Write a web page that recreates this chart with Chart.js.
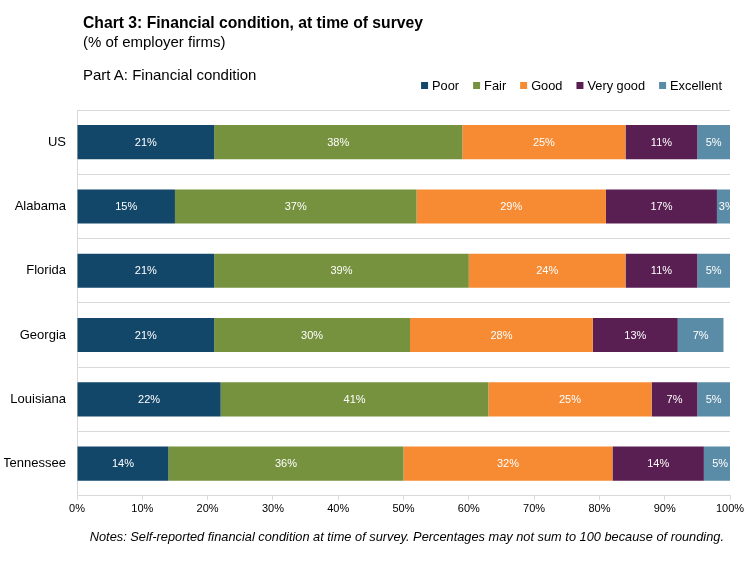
<!DOCTYPE html>
<html>
<head>
<meta charset="utf-8">
<script src="https://cdn.jsdelivr.net/npm/chart.js@4"></script>
<style>
  html, body { margin: 0; padding: 0; background: #fff; }
  #wrap { position: relative; width: 750px; height: 566px; font-family: "Liberation Sans", Arial, sans-serif; color: #000; }
  #c { position: absolute; left: 0; top: 0; }
  .t { position: absolute; white-space: nowrap; line-height: 1; }
</style>
</head>
<body>
<div id="wrap">
  <canvas id="c" width="750" height="566"></canvas>
  <div class="t" id="title" style="left:83px; top:15px; font-size:15.7px; font-weight:bold;">Chart 3: Financial condition, at time of survey</div>
  <div class="t" id="sub" style="left:83px; top:34px; font-size:15px;">(% of employer firms)</div>
  <div class="t" id="part" style="left:83px; top:67px; font-size:15px;">Part A: Financial condition</div>
  <div class="t" id="notes" style="right:26px; top:531px; font-size:12.8px; font-style:italic;">Notes: Self-reported financial condition at time of survey. Percentages may not sum to 100 because of rounding.</div>
</div>
<script>
const categories = ["US", "Alabama", "Florida", "Georgia", "Louisiana", "Tennessee"];
const seriesNames = ["Poor", "Fair", "Good", "Very good", "Excellent"];
const poor      = [21, 15, 21, 21, 22, 14];
const fair      = [38, 37, 39, 30, 41, 36];
const good      = [25, 29, 24, 28, 25, 32];
const veryGood  = [11, 17, 11, 13, 7, 14];
const excellent = [5, 3, 5, 7, 5, 5];
const xTicks = [0, 10, 20, 30, 40, 50, 60, 70, 80, 90, 100];
const colors = ["#13476A", "#77923F", "#F68B33", "#5A1F52", "#5B8CA7"];

const seriesValues = [poor, fair, good, veryGood, excellent];

const barLabels = {
  id: 'barLabels',
  afterDatasetsDraw(chart) {
    const ctx = chart.ctx;
    const a = chart.chartArea;
    ctx.save();
    ctx.beginPath();
    ctx.rect(a.left, a.top, a.right - a.left, a.bottom - a.top);
    ctx.clip();
    ctx.fillStyle = '#ffffff';
    ctx.font = '11px "Liberation Sans", Arial, sans-serif';
    ctx.textAlign = 'center';
    ctx.textBaseline = 'middle';
    chart.data.datasets.forEach((ds, di) => {
      const meta = chart.getDatasetMeta(di);
      meta.data.forEach((bar, i) => {
        const v = ds.data[i];
        const cx = (bar.x + bar.base) / 2;
        ctx.fillText(v + '%', cx, bar.y + 0.5);
      });
    });
    ctx.restore();
  }
};

const customLegend = {
  id: 'customLegend',
  afterDraw(chart) {
    const ctx = chart.ctx;
    ctx.save();
    ctx.font = '12.8px "Liberation Sans", Arial, sans-serif';
    ctx.textBaseline = 'alphabetic';
    ctx.textAlign = 'left';
    const box = 7, gapBoxText = 4, gapItems = 14;
    const items = chart.data.datasets.map(d => ({ label: d.label, color: d.backgroundColor, w: ctx.measureText(d.label).width }));
    let total = 0;
    items.forEach((it, i) => { total += box + gapBoxText + it.w + (i < items.length - 1 ? gapItems : 0); });
    let x = 722 - total;
    const baseline = 90;
    items.forEach((it) => {
      ctx.fillStyle = it.color;
      ctx.fillRect(x, 82, box, box);
      x += box + gapBoxText;
      ctx.fillStyle = '#000';
      ctx.fillText(it.label, x, baseline);
      x += it.w + gapItems;
    });
    ctx.restore();
  }
};

new Chart(document.getElementById('c'), {
  type: 'bar',
  data: {
    labels: categories,
    datasets: seriesNames.map((name, i) => ({
      label: name,
      data: seriesValues[i],
      backgroundColor: colors[i],
      borderWidth: 0,
      categoryPercentage: 1.0,
      barPercentage: 0.53
    }))
  },
  options: {
    indexAxis: 'y',
    responsive: false,
    animation: false,
    devicePixelRatio: 1,
    layout: { padding: { top: 110, left: 4, right: 20, bottom: 47 } },
    plugins: {
      legend: { display: false },
      tooltip: { enabled: false },
      title: { display: false }
    },
    scales: {
      x: {
        stacked: true,
        min: 0,
        max: 100,
        afterBuildTicks(scale) { scale.ticks = xTicks.map(v => ({ value: v })); },
        ticks: {
          callback: v => v + '%',
          color: '#000',
          font: { size: 11, family: '"Liberation Sans", Arial, sans-serif' },
          padding: 3,
          maxRotation: 0
        },
        grid: { display: true, drawOnChartArea: false, drawTicks: true, tickLength: 4, color: '#d9d9d9' },
        border: { display: true, color: '#d9d9d9', width: 1 }
      },
      y: {
        stacked: true,
        afterFit(scale) { scale.width = 73; },
        ticks: {
          color: '#000',
          font: { size: 13, family: '"Liberation Sans", Arial, sans-serif' },
          padding: 11
        },
        grid: { display: true, offset: true, color: '#d9d9d9', drawTicks: false, lineWidth: 1 },
        border: { display: true, color: '#d9d9d9', width: 1 }
      }
    }
  },
  plugins: [barLabels, customLegend]
});
</script>
</body>
</html>
